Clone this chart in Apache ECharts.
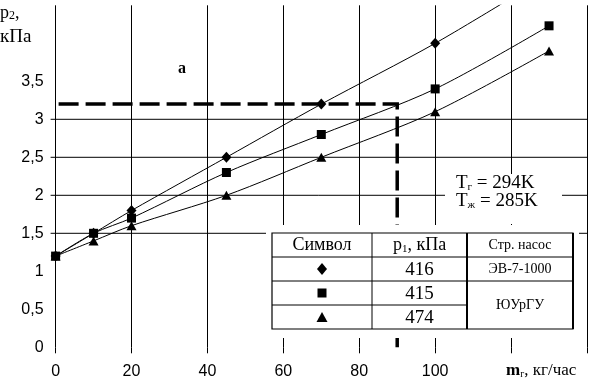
<!DOCTYPE html>
<html>
<head>
<meta charset="utf-8">
<script src="https://cdn.jsdelivr.net/npm/echarts@6/dist/echarts.min.js"></script>
<style>
html,body{margin:0;padding:0;background:#fff;}
#chart{width:590px;height:383px;}
</style>
</head>
<body>
<div id="chart"></div>
<script>
// ---- data ----
const xVals = [0, 10, 20, 45, 70, 100, 130];
const diamondVals = [1.2, 1.5, 1.8, 2.5, 3.2, 4.0, 4.9];
const squareVals = [1.2, 1.5, 1.7, 2.3, 2.8, 3.4, 4.23];
const triangleVals = [1.2, 1.4, 1.6, 2.0, 2.5, 3.1, 3.9];
const xTickLabels = ['0', '20', '40', '60', '80', '100'];
const yTickLabels = ['0', '0,5', '1', '1,5', '2', '2,5', '3', '3,5'];
const hGridValues = [1.5, 2, 2.5, 3];
const guidePoint = [90, 3.2];
const tableSymbols = ['diamond', 'rect', 'triangle'];
const tablePressures = ['416', '415', '474'];
const tablePumps = ['ЭВ-7-1000', 'ЮУрГУ'];

const pair = vals => xVals.map((x, i) => [x, vals[i]]);

const chart = echarts.init(document.getElementById('chart'));
const serif = '"Liberation Serif", "Times New Roman", serif';
const sans = '"Liberation Sans", Arial, sans-serif';

// table geometry (annotation)
const tx = [272, 372, 467, 573];
const ty = [233, 257, 281, 305, 329];
const tableEls = [];
tableEls.push({type:'rect', shape:{x:266, y:225, width:313, height:113}, style:{fill:'#fff'}, z:100});
tableEls.push({type:'rect', shape:{x:tx[0], y:ty[0], width:tx[3]-tx[0], height:ty[4]-ty[0]}, style:{fill:'none', stroke:'#000', lineWidth:1.2}, z:101});
tableEls.push({type:'line', shape:{x1:tx[1], y1:ty[0], x2:tx[1], y2:ty[4]}, style:{stroke:'#000', lineWidth:1}, z:101});
tableEls.push({type:'line', shape:{x1:tx[2], y1:ty[0], x2:tx[2], y2:ty[4]}, style:{stroke:'#000', lineWidth:2}, z:101});
tableEls.push({type:'line', shape:{x1:tx[3], y1:ty[0], x2:tx[3], y2:ty[4]}, style:{stroke:'#000', lineWidth:2}, z:101});
for (let r = 1; r <= 3; r++) {
  const xEnd = (r === 1 || r === 2) ? tx[3] : tx[2];
  tableEls.push({type:'line', shape:{x1:tx[0], y1:ty[r], x2:xEnd, y2:ty[r]}, style:{stroke:'#000', lineWidth:1}, z:101});
}
const cellText = (text, cx, cy, size) => ({type:'text', x:cx, y:cy, style:{text:text, font:size+'px '+serif, fill:'#000', textAlign:'center', textVerticalAlign:'middle'}, z:102});
tableEls.push(cellText('Символ', (tx[0]+tx[1])/2, (ty[0]+ty[1])/2, 18));
tableEls.push({type:'text', x:(tx[1]+tx[2])/2, y:(ty[0]+ty[1])/2, style:{rich:{a:{fontSize:18, fontFamily:serif}, s:{fontSize:11, fontFamily:serif, verticalAlign:'bottom', padding:[8,0,0,0]}}, text:'{a|p}{s|1}{a|, кПа}', textAlign:'center', textVerticalAlign:'middle', fill:'#000'}, z:102});
tableEls.push(cellText('Стр. насос', (tx[2]+tx[3])/2, (ty[0]+ty[1])/2, 14));
tablePressures.forEach((p, i) => {
  tableEls.push(cellText(p, (tx[1]+tx[2])/2, (ty[i+1]+ty[i+2])/2 + 1, 19));
  const cx = (tx[0]+tx[1])/2, cy = (ty[i+1]+ty[i+2])/2;
  const sym = tableSymbols[i];
  if (sym === 'diamond') tableEls.push({type:'polygon', shape:{points:[[cx,cy-6],[cx+5,cy],[cx,cy+6],[cx-5,cy]]}, style:{fill:'#000'}, z:102});
  else if (sym === 'rect') tableEls.push({type:'rect', shape:{x:cx-4.5, y:cy-4.5, width:9, height:9}, style:{fill:'#000'}, z:102});
  else tableEls.push({type:'polygon', shape:{points:[[cx,cy-5],[cx+5.5,cy+5],[cx-5.5,cy+5]]}, style:{fill:'#000'}, z:102});
});
tableEls.push(cellText(tablePumps[0], (tx[2]+tx[3])/2, (ty[1]+ty[2])/2, 14));
tableEls.push(cellText(tablePumps[1], (tx[2]+tx[3])/2, (ty[2]+ty[4])/2, 14));

const option = {
  backgroundColor: '#fff',
  animation: false,
  grid: {left: 55.6, right: 2.4, top: 5.3, bottom: 35.7, containLabel: false},
  xAxis: {
    type: 'value', min: 0, max: 140, interval: 20,
    axisLine: {show: false},
    axisTick: {show: true, length: 6, lineStyle: {color: '#000', width: 1}},
    splitLine: {show: true, lineStyle: {color: '#000', width: 1}},
    axisLabel: {
      margin: 16, color: '#000', fontFamily: sans, fontSize: 16,
      formatter: v => { const s = String(v); return xTickLabels.indexOf(s) >= 0 ? s : ''; }
    }
  },
  yAxis: {
    type: 'value', min: 0, max: 4.5, interval: 0.5,
    axisLine: {show: false},
    axisTick: {show: false},
    splitLine: {show: false},
    axisLabel: {
      margin: 12, color: '#000', fontFamily: sans, fontSize: 16,
      formatter: v => { const s = String(v).replace('.', ','); return yTickLabels.indexOf(s) >= 0 ? s : ''; }
    }
  },
  graphic: [
    {type:'text', left: 0, top: 4, style:{rich:{a:{fontSize:18, fontFamily:serif}, s:{fontSize:12, fontFamily:serif, padding:[6,0,0,0]}}, text:'{a|p}{s|2}{a|,}', fill:'#000'}},
    {type:'text', left: 0, top: 28, style:{text:'кПа', font:'19px '+serif, fill:'#000'}},
    {type:'text', left: 178, top: 61, style:{text:'а', font:'bold 16px '+serif, fill:'#000'}},
    {type:'rect', shape:{x:445, y:174, width:117, height:50}, style:{fill:'#fff'}, z:100},
    {type:'text', left: 456, top: 174, z:101, style:{rich:{a:{fontSize:19, fontFamily:serif}, s:{fontSize:11, fontFamily:serif, padding:[8,0,0,0]}}, text:'{a|T}{s|г}{a| = 294K}', fill:'#000'}},
    {type:'text', left: 456, top: 192, z:101, style:{rich:{a:{fontSize:19, fontFamily:serif}, s:{fontSize:11, fontFamily:serif, padding:[8,0,0,0]}}, text:'{a|T}{s|ж}{a| = 285K}', fill:'#000'}},
    {type:'text', left: 506, top: 362, style:{rich:{a:{fontSize:17, fontFamily:serif}, b:{fontSize:17, fontFamily:serif, fontWeight:'bold'}, s:{fontSize:10, fontFamily:serif, padding:[7,0,0,0]}}, text:'{b|m}{s|г}{a|, кг/час}', fill:'#000'}},
    {type:'group', children: tableEls, z:100}
  ],
  series: [
    {
      type: 'custom', name: 'hgrid', coordinateSystem: 'cartesian2d', clip: false, silent: true, z: 1,
      data: hGridValues.map(v => [0, v]),
      renderItem: (params, api) => {
        const v = api.value(1);
        const p0 = api.coord([0, v]);
        const p1 = api.coord([140, v]);
        return {type:'line', shape:{x1:p0[0]-5, y1:p0[1], x2:p1[0], y2:p1[1]}, style:{stroke:'#000', lineWidth:1}};
      }
    },
    {
      type: 'line', name: 'guide', clip: false, silent: true, z: 2,
      data: [[0, guidePoint[1]], guidePoint, [guidePoint[0], 0]],
      symbol: 'none',
      lineStyle: {color: '#000', width: 3.5, type: [20, 7], dashOffset: -3, join: 'miter', cap: 'butt'}
    },
    {
      type: 'line', name: 'diamond', data: pair(diamondVals), smooth: 0.3,
      symbol: 'diamond', symbolSize: [10, 11], showAllSymbol: true,
      itemStyle: {color: '#000'}, lineStyle: {color: '#000', width: 1}, z: 3
    },
    {
      type: 'line', name: 'triangle', data: pair(triangleVals), smooth: 0.3,
      symbol: 'triangle', symbolSize: [10, 9], showAllSymbol: true,
      itemStyle: {color: '#000'}, lineStyle: {color: '#000', width: 1}, z: 4
    },
    {
      type: 'line', name: 'square', data: pair(squareVals), smooth: 0.3,
      symbol: 'rect', symbolSize: 9, showAllSymbol: true,
      itemStyle: {color: '#000'}, lineStyle: {color: '#000', width: 1}, z: 5
    }
  ]
};
chart.setOption(option);
</script>
</body>
</html>
